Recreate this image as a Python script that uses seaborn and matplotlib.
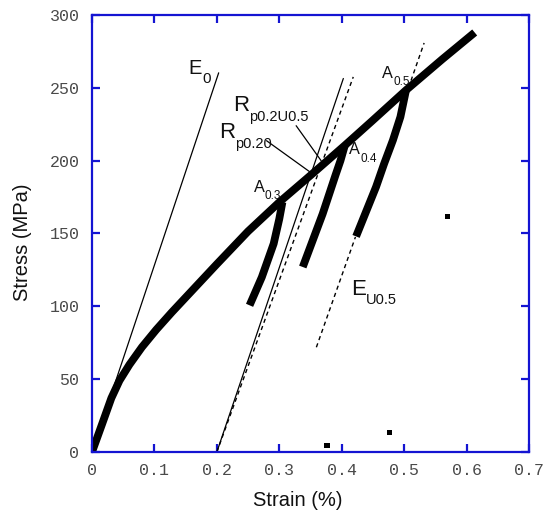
import matplotlib
matplotlib.use("Agg")
import matplotlib.pyplot as plt
import seaborn as sns
import pandas as pd

# ---- data (strain %, stress MPa) ----
curve_x = [0, 0.016, 0.031, 0.044, 0.060, 0.080, 0.103, 0.128, 0.152, 0.200,
           0.250, 0.300, 0.353, 0.405, 0.449, 0.503, 0.561, 0.613]
curve_y = [0, 19, 37, 49, 60, 72, 84, 96, 107, 129,
           151.5, 171.5, 191, 210.5, 227.4, 248.4, 269.6, 288]

unload03_x = [0.305, 0.300, 0.291, 0.272, 0.2524]
unload03_y = [171.5, 160, 143, 120, 100.7]
unload04_x = [0.405, 0.398, 0.390, 0.3695, 0.3376]
unload04_y = [210.5, 200, 190, 163.5, 127]
unload05_x = [0.503, 0.494, 0.482, 0.468, 0.455, 0.423]
unload05_y = [248.4, 230, 214, 198, 182, 148]

e0_x = [0.0, 0.2029]
e0_y = [0.0, 260.3]
rp02_x = [0.2, 0.4026]
rp02_y = [0.0, 256.4]
rp02u_x = [0.2, 0.4185]
rp02u_y = [0.0, 257.5]
eu_low_x = [0.3594, 0.422]
eu_low_y = [71.9, 147.6]
eu_high_x = [0.511, 0.532]
eu_high_y = [255.0, 280.8]

lead_rp020_x = [0.2796, 0.3535]
lead_rp020_y = [213.7, 190.9]
lead_rp02u_x = [0.327, 0.367]
lead_rp02u_y = [224.0, 200.0]

stray_x = [0.569, 0.3765, 0.476]
stray_y = [161.8, 4.3, 13.5]

x_ticks = [0, 0.1, 0.2, 0.3, 0.4, 0.5, 0.6, 0.7]
x_tick_labels = ["0", "0.1", "0.2", "0.3", "0.4", "0.5", "0.6", "0.7"]
y_ticks = [0, 50, 100, 150, 200, 250, 300]

# labels: (main, subscript, x, y, main size, sub size, drop in points)
labels = [
    ("E", "0", 0.155, 259.6, 14.5, 11, 6.5),
    ("R", "p0.2U0.5", 0.2257, 234.2, 16, 10.5, 7.2),
    ("R", "p0.20", 0.2034, 215.8, 16, 10.5, 7.2),
    ("A", "0.3", 0.2588, 178.3, 11.7, 8.5, 5.2),
    ("A", "0.4", 0.412, 204.6, 11.7, 8.5, 5.6),
    ("A", "0.5", 0.4644, 257.0, 11.7, 8.5, 5.6),
    ("E", "U0.5", 0.4148, 107.5, 16, 10.5, 6.5),
]

sns.set_style("white")
plt.rcParams["font.family"] = ["Liberation Sans", "DejaVu Sans"]

fig = plt.figure(figsize=(5.45, 5.17), dpi=100)
ax = fig.add_axes([92 / 545, 1 - 452 / 517, (529 - 92) / 545, (452 - 15) / 517])


def line(xs, ys, **kw):
    df = pd.DataFrame({"x": xs, "y": ys})
    sns.lineplot(data=df, x="x", y="y", sort=False, estimator=None, ax=ax, **kw)


thin = dict(color="black", lw=0.9)
dash = dict(color="black", lw=1.0, dashes=(3, 2.5))
line(e0_x, e0_y, **thin)
line(rp02_x, rp02_y, **thin)
line(rp02u_x, rp02u_y, **dash)
line(eu_low_x, eu_low_y, **dash)
line(eu_high_x, eu_high_y, **dash)

thick = dict(color="black", lw=5.6, solid_capstyle="butt", solid_joinstyle="round")
line(curve_x, curve_y, **thick)
line(unload03_x, unload03_y, **thick)
line(unload04_x, unload04_y, **thick)
line(unload05_x, unload05_y, **thick)

sns.scatterplot(x=stray_x, y=stray_y, marker="s", s=14, color="black",
                edgecolor="none", ax=ax)

line(lead_rp020_x, lead_rp020_y, **thin)
line(lead_rp02u_x, lead_rp02u_y, **thin)

ax.set_xlim(0, 0.7)
ax.set_ylim(0, 300)
ax.set_xticks(x_ticks)
ax.set_xticklabels(x_tick_labels)
ax.set_yticks(y_ticks)

renderer = fig.canvas.get_renderer()
for main, sub, lx, ly, fs, fss, drop in labels:
    t = ax.text(lx, ly, main, fontsize=fs, ha="left", va="baseline", color="#111111")
    w = t.get_window_extent(renderer).width * 72 / fig.dpi
    ax.annotate(sub, (lx, ly), xytext=(w + 0.3, -drop), textcoords="offset points",
                fontsize=fss, ha="left", va="baseline", color="#111111")

blue = "#1414d2"
for s in ax.spines.values():
    s.set_visible(True)
    s.set_color(blue)
    s.set_linewidth(1.6)
ax.tick_params(direction="in", length=6, width=1.6, color=blue,
               top=True, right=True, bottom=True, left=True,
               labeltop=False, labelright=False)
ax.tick_params(axis="y", pad=9)
ax.tick_params(axis="x", pad=8)
for lab in ax.get_xticklabels() + ax.get_yticklabels():
    lab.set_fontfamily("Liberation Mono")
    lab.set_fontsize(12)
    lab.set_color("#4a4a4a")

ax.set_xlabel("Strain (%)", fontsize=14.5, color="#111111")
ax.set_ylabel("Stress (MPa)", fontsize=14.5, color="#111111")
ax.xaxis.set_label_coords((298 - 92) / (529 - 92), -(500 - 452) / (452 - 15))
ax.yaxis.set_label_coords(-(92 - 23) / (529 - 92), (452 - 242) / (452 - 15))
ax.xaxis.label.set_va("center")
ax.yaxis.label.set_va("center")

fig.savefig("out.png", dpi=100)
